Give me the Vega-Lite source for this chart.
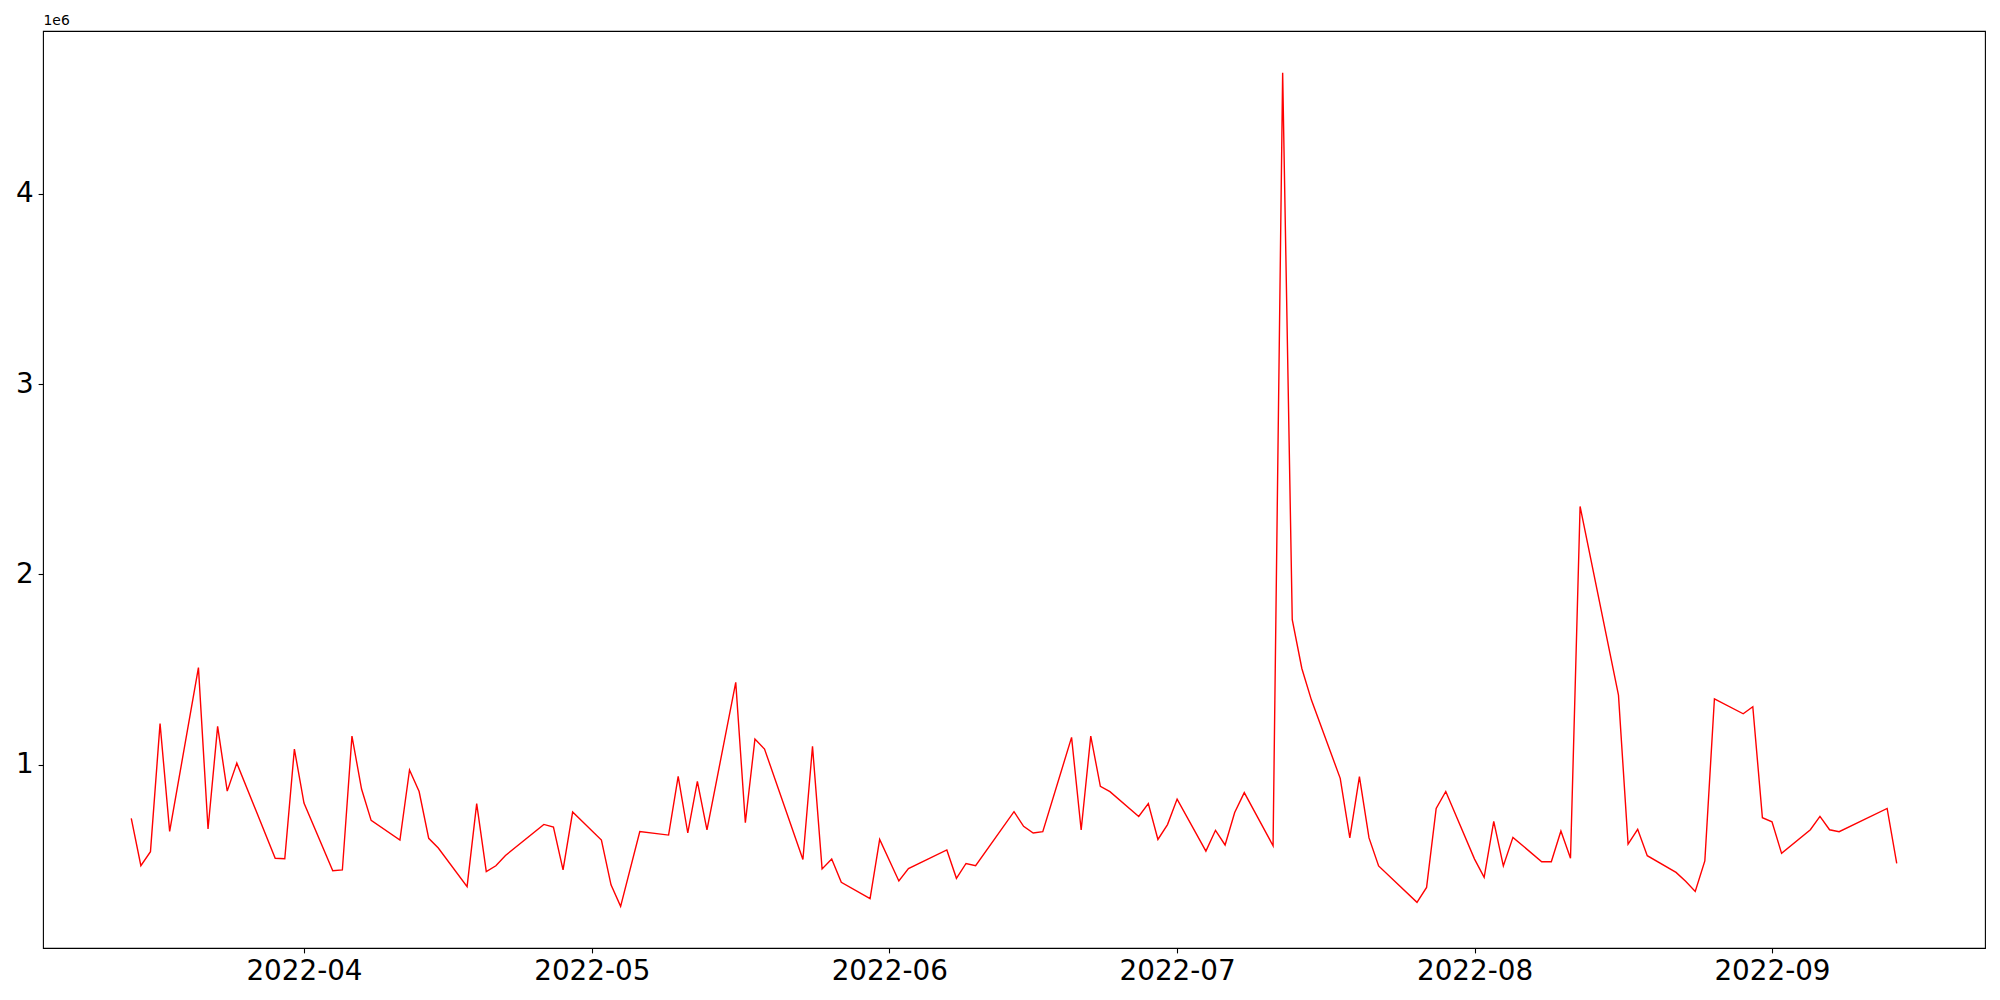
{
  "$schema": "https://vega.github.io/schema/vega-lite/v6.json",
  "width": 1942,
  "height": 917,
  "autosize": {"type": "none"},
  "padding": {"left": 43, "top": 31, "right": 15, "bottom": 52},
  "background": "white",
  "config": {
    "font": "DejaVu Sans",
    "view": {"stroke": "black", "strokeWidth": 1.1},
    "axis": {
      "grid": false,
      "domain": false,
      "tickColor": "black",
      "tickWidth": 1.1,
      "tickSize": 4.9,
      "labelColor": "black",
      "labelFontSize": 27.8,
      "labelPadding": 4.9,
      "labelFont": "DejaVu Sans"
    }
  },
  "data": {
    "values": [
      {"date": "2022-03-14", "value": 719000},
      {"date": "2022-03-15", "value": 470000},
      {"date": "2022-03-16", "value": 544000},
      {"date": "2022-03-17", "value": 1217000},
      {"date": "2022-03-18", "value": 650000},
      {"date": "2022-03-21", "value": 1511000},
      {"date": "2022-03-22", "value": 663000},
      {"date": "2022-03-23", "value": 1202000},
      {"date": "2022-03-24", "value": 862000},
      {"date": "2022-03-25", "value": 1009000},
      {"date": "2022-03-29", "value": 509000},
      {"date": "2022-03-30", "value": 507000},
      {"date": "2022-03-31", "value": 1083000},
      {"date": "2022-04-01", "value": 799000},
      {"date": "2022-04-04", "value": 444000},
      {"date": "2022-04-05", "value": 448000},
      {"date": "2022-04-06", "value": 1151000},
      {"date": "2022-04-07", "value": 873000},
      {"date": "2022-04-08", "value": 708000},
      {"date": "2022-04-11", "value": 605000},
      {"date": "2022-04-12", "value": 973000},
      {"date": "2022-04-13", "value": 860000},
      {"date": "2022-04-14", "value": 614000},
      {"date": "2022-04-15", "value": 563000},
      {"date": "2022-04-18", "value": 360000},
      {"date": "2022-04-19", "value": 796000},
      {"date": "2022-04-20", "value": 439000},
      {"date": "2022-04-21", "value": 470000},
      {"date": "2022-04-22", "value": 524000},
      {"date": "2022-04-26", "value": 687000},
      {"date": "2022-04-27", "value": 673000},
      {"date": "2022-04-28", "value": 448000},
      {"date": "2022-04-29", "value": 752000},
      {"date": "2022-05-02", "value": 605000},
      {"date": "2022-05-03", "value": 370000},
      {"date": "2022-05-04", "value": 257000},
      {"date": "2022-05-06", "value": 650000},
      {"date": "2022-05-09", "value": 631000},
      {"date": "2022-05-10", "value": 939000},
      {"date": "2022-05-11", "value": 642000},
      {"date": "2022-05-12", "value": 913000},
      {"date": "2022-05-13", "value": 658000},
      {"date": "2022-05-16", "value": 1433000},
      {"date": "2022-05-17", "value": 696000},
      {"date": "2022-05-18", "value": 1135000},
      {"date": "2022-05-19", "value": 1083000},
      {"date": "2022-05-23", "value": 503000},
      {"date": "2022-05-24", "value": 1097000},
      {"date": "2022-05-25", "value": 453000},
      {"date": "2022-05-26", "value": 505000},
      {"date": "2022-05-27", "value": 383000},
      {"date": "2022-05-30", "value": 297000},
      {"date": "2022-05-31", "value": 608000},
      {"date": "2022-06-02", "value": 390000},
      {"date": "2022-06-03", "value": 455000},
      {"date": "2022-06-07", "value": 553000},
      {"date": "2022-06-08", "value": 404000},
      {"date": "2022-06-09", "value": 482000},
      {"date": "2022-06-10", "value": 470000},
      {"date": "2022-06-14", "value": 754000},
      {"date": "2022-06-15", "value": 677000},
      {"date": "2022-06-16", "value": 642000},
      {"date": "2022-06-17", "value": 649000},
      {"date": "2022-06-20", "value": 1144000},
      {"date": "2022-06-21", "value": 658000},
      {"date": "2022-06-22", "value": 1151000},
      {"date": "2022-06-23", "value": 887000},
      {"date": "2022-06-24", "value": 859000},
      {"date": "2022-06-27", "value": 729000},
      {"date": "2022-06-28", "value": 797000},
      {"date": "2022-06-29", "value": 608000},
      {"date": "2022-06-30", "value": 686000},
      {"date": "2022-07-01", "value": 820000},
      {"date": "2022-07-04", "value": 547000},
      {"date": "2022-07-05", "value": 656000},
      {"date": "2022-07-06", "value": 579000},
      {"date": "2022-07-07", "value": 750000},
      {"date": "2022-07-08", "value": 854000},
      {"date": "2022-07-11", "value": 575000},
      {"date": "2022-07-12", "value": 4635000},
      {"date": "2022-07-13", "value": 1762000},
      {"date": "2022-07-14", "value": 1506000},
      {"date": "2022-07-15", "value": 1340000},
      {"date": "2022-07-18", "value": 929000},
      {"date": "2022-07-19", "value": 616000},
      {"date": "2022-07-20", "value": 938000},
      {"date": "2022-07-21", "value": 616000},
      {"date": "2022-07-22", "value": 469000},
      {"date": "2022-07-26", "value": 278000},
      {"date": "2022-07-27", "value": 356000},
      {"date": "2022-07-28", "value": 771000},
      {"date": "2022-07-29", "value": 860000},
      {"date": "2022-08-01", "value": 505000},
      {"date": "2022-08-02", "value": 409000},
      {"date": "2022-08-03", "value": 703000},
      {"date": "2022-08-04", "value": 469000},
      {"date": "2022-08-05", "value": 619000},
      {"date": "2022-08-08", "value": 491000},
      {"date": "2022-08-09", "value": 491000},
      {"date": "2022-08-10", "value": 652000},
      {"date": "2022-08-11", "value": 509000},
      {"date": "2022-08-12", "value": 2357000},
      {"date": "2022-08-16", "value": 1366000},
      {"date": "2022-08-17", "value": 584000},
      {"date": "2022-08-18", "value": 661000},
      {"date": "2022-08-19", "value": 523000},
      {"date": "2022-08-22", "value": 435000},
      {"date": "2022-08-23", "value": 388000},
      {"date": "2022-08-24", "value": 335000},
      {"date": "2022-08-25", "value": 495000},
      {"date": "2022-08-26", "value": 1347000},
      {"date": "2022-08-29", "value": 1268000},
      {"date": "2022-08-30", "value": 1305000},
      {"date": "2022-08-31", "value": 722000},
      {"date": "2022-09-01", "value": 701000},
      {"date": "2022-09-02", "value": 535000},
      {"date": "2022-09-05", "value": 659000},
      {"date": "2022-09-06", "value": 729000},
      {"date": "2022-09-07", "value": 659000},
      {"date": "2022-09-08", "value": 649000},
      {"date": "2022-09-13", "value": 771000},
      {"date": "2022-09-14", "value": 482000}
    ]
  },
  "mark": {"type": "line", "color": "#ff0000", "strokeWidth": 1.4, "clip": true},
  "encoding": {
    "x": {
      "field": "date",
      "type": "temporal",
      "scale": {
        "type": "utc",
        "domain": [
          {"year": 2022, "month": 3, "date": 4, "hours": 19, "minutes": 12, "utc": true},
          {"year": 2022, "month": 9, "date": 23, "hours": 4, "minutes": 48, "utc": true}
        ]
      },
      "axis": {
        "title": null,
        "format": "%Y-%m",
        "values": [
          {"year": 2022, "month": 4, "date": 1, "utc": true},
          {"year": 2022, "month": 5, "date": 1, "utc": true},
          {"year": 2022, "month": 6, "date": 1, "utc": true},
          {"year": 2022, "month": 7, "date": 1, "utc": true},
          {"year": 2022, "month": 8, "date": 1, "utc": true},
          {"year": 2022, "month": 9, "date": 1, "utc": true}
        ]
      }
    },
    "y": {
      "field": "value",
      "type": "quantitative",
      "scale": {"domain": [38000, 4854000], "nice": false, "zero": false},
      "axis": {
        "title": "1e6",
        "titleAngle": 0,
        "titleX": 0,
        "titleY": -4,
        "titleAlign": "left",
        "titleBaseline": "bottom",
        "titleFontSize": 13.9,
        "titleFontWeight": "normal",
        "titleColor": "black",
        "titleFont": "DejaVu Sans",
        "values": [1000000, 2000000, 3000000, 4000000],
        "labelExpr": "'' + (datum.value / 1000000)"
      }
    }
  }
}
